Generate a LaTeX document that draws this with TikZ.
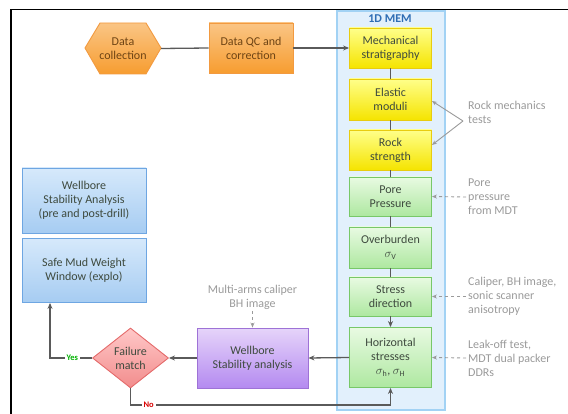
\documentclass[tikz,border=0pt]{standalone}
\usepackage{fontspec}
\setmainfont{Carlito}
\usetikzlibrary{shapes.geometric,arrows.meta}
\definecolor{conncol}{HTML}{5A5A5A}
\definecolor{anncol}{HTML}{9A9A9A}
\definecolor{orTop}{HTML}{FAC585}
\definecolor{orBot}{HTML}{F79D30}
\definecolor{orLine}{HTML}{F29A40}
\definecolor{orText}{HTML}{6E4414}
\definecolor{yeTop}{HTML}{FFFF8A}
\definecolor{yeBot}{HTML}{F5E400}
\definecolor{yeLine}{HTML}{E8CC10}
\definecolor{grTop}{HTML}{E8FAE2}
\definecolor{grBot}{HTML}{AEE8A0}
\definecolor{grLine}{HTML}{78C868}
\definecolor{puTop}{HTML}{E6D4FA}
\definecolor{puBot}{HTML}{B48AF0}
\definecolor{puLine}{HTML}{9E72D6}
\definecolor{blTop}{HTML}{D6E9FB}
\definecolor{blBot}{HTML}{A6CCF2}
\definecolor{blLine}{HTML}{6EA6E2}
\definecolor{rdTop}{HTML}{FFC8C8}
\definecolor{rdBot}{HTML}{F28C8C}
\definecolor{rdLine}{HTML}{E46A6A}
\definecolor{memFill}{HTML}{E2F0FC}
\definecolor{memLine}{HTML}{A2D2F4}
\definecolor{memText}{HTML}{2E6DB4}
\definecolor{boxText}{HTML}{3E4A3E}
\tikzset{
  every node/.style={font=\fontsize{12}{14}\selectfont},
  basebox/.style={rectangle, line width=0.9pt, align=center, inner sep=1pt, text=boxText},
  orbox/.style={basebox, draw=orLine, top color=orTop, bottom color=orBot, text=orText},
  yebox/.style={basebox, draw=yeLine, top color=yeTop, bottom color=yeBot, minimum width=82pt, minimum height=40pt},
  grbox/.style={basebox, draw=grLine, top color=grTop, bottom color=grBot, minimum width=82pt},
  pubox/.style={basebox, draw=puLine, top color=puTop, bottom color=puBot},
  blbox/.style={basebox, draw=blLine, top color=blTop, bottom color=blBot, minimum width=124pt},
  conn/.style={draw=conncol, line width=1.3pt},
  tip/.style={-{Stealth[length=6pt,width=5pt]}},
  ann/.style={draw=anncol, line width=0.9pt, -{Stealth[length=5pt,width=4pt]}},
  anntext/.style={align=left, text=anncol, inner sep=2pt},
  lbl/.style={fill=white, inner sep=2pt, font=\fontsize{8.5}{10}\selectfont\bfseries},
}
\begin{document}
\begin{tikzpicture}[x=1pt,y=-1pt]
\useasboundingbox (0,0) rectangle (568,414);
% frame
\draw[line width=1.6pt] (11,414) -- (11,9.5) -- (568,9.5);
% 1D MEM container
\draw[fill=memFill, draw=memLine, line width=1.2pt] (337,11) rectangle (445,410);
\node[font=\fontsize{12}{13}\selectfont\bfseries, text=memText] (memtitle) at (390,19) {1D MEM};
% hexagon
\shade[top color=orTop, bottom color=orBot, draw=orLine, line width=0.9pt]
  (85,48) -- (100,23) -- (146,23) -- (161,48) -- (146,74) -- (100,74) -- cycle;
\node[align=center, text=orText, minimum width=76pt, minimum height=51pt, inner sep=0pt] (dc) at (123,48.5) {Data\\collection};
\node[orbox, minimum width=84pt, minimum height=50pt] (qc) at (251,48) {Data QC and\\correction};
% MEM boxes
\node[yebox, minimum height=40pt] (mech) at (390.5,48) {Mechanical\\stratigraphy};
\node[yebox, minimum height=41pt] (elast) at (390.5,99.5) {Elastic\\moduli};
\node[yebox, minimum height=40pt] (rock) at (390.5,150) {Rock\\strength};
\node[grbox, minimum height=39pt] (pore) at (390.5,196.5) {Pore\\Pressure};
\node[grbox, minimum height=41pt] (over) at (390.5,247.5) {Overburden\\$\sigma_{\mathrm{V}}$};
\node[grbox, minimum height=39pt] (stress) at (390.5,296.5) {Stress\\direction};
\node[grbox, minimum height=60pt] (hor) at (390.5,357.5) {Horizontal\\stresses\\$\sigma_{\mathrm{h}}$, $\sigma_{\mathrm{H}}$};
% purple, diamond, blue boxes
\node[pubox, minimum width=111pt, minimum height=60pt] (wsa) at (252.5,358) {Wellbore\\Stability analysis};
\node[diamond, aspect=1.27, draw=rdLine, line width=0.9pt, top color=rdTop, bottom color=rdBot,
      minimum width=76pt, minimum height=60pt, inner sep=0pt, align=center, text=boxText] (fm) at (130.5,358) {Failure\\match};
\node[blbox, minimum height=65pt] (wsapd) at (84,200.5) {Wellbore\\Stability Analysis\\(pre and post-drill)};
\node[blbox, minimum height=64pt] (smw) at (84,270.5) {Safe Mud Weight\\Window (explo)};
% annotation texts
\node[anntext, anchor=west] (rmt) at (466,112) {Rock mechanics\\tests};
\node[anntext, anchor=west] (ppt) at (466,197) {Pore\\pressure\\from MDT};
\node[anntext, anchor=west] (calt) at (466,296.5) {Caliper, BH image,\\sonic scanner\\anisotropy};
\node[anntext, anchor=west] (lot) at (466,358) {Leak-off test,\\MDT dual packer\\DDRs};
\node[anntext, align=center] (mac) at (252.5,297) {Multi-arms caliper\\BH image};
% main connectors
\draw[conn] (dc.east) -- (qc.west);
\draw[conn, tip] (qc.east) -- (mech.west);
\draw[conn] (mech) -- (elast);
\draw[conn] (elast) -- (rock);
\draw[conn] (rock) -- (pore);
\draw[conn] (pore) -- (over);
\draw[conn] (over) -- (stress);
\draw[conn, tip] (stress) -- (hor);
\draw[conn, tip] (hor.west) -- (wsa.east);
\draw[conn, tip] (wsa.west) -- (fm.east);
\coordinate (yc) at (50,358);
\draw[conn, tip] (fm.west) -- node[lbl, text=green!70!black, pos=0.47] {Yes} (yc) -- (yc |- smw.south);
\coordinate (nc) at (0,405);
\draw[conn, tip] (fm.south) -- (fm.south |- nc) -- node[lbl, text=red!85!black, pos=0.07] {No} (hor.south |- nc) -- (hor.south);
% annotation arrows
\coordinate (rmc) at (463,121);
\draw[ann] (rmc) -- ([yshift=-1.5pt]elast.east);
\draw[ann] (rmc) -- ([yshift=5pt]rock.east);
\draw[ann, dashed] (ppt.west) -- (pore.east);
\draw[ann, dashed] (calt.west) -- (stress.east);
\draw[ann, dashed] (lot.west) -- (hor.east);
\draw[ann, dashed] (mac.south) -- (wsa.north);
\end{tikzpicture}
\end{document}
